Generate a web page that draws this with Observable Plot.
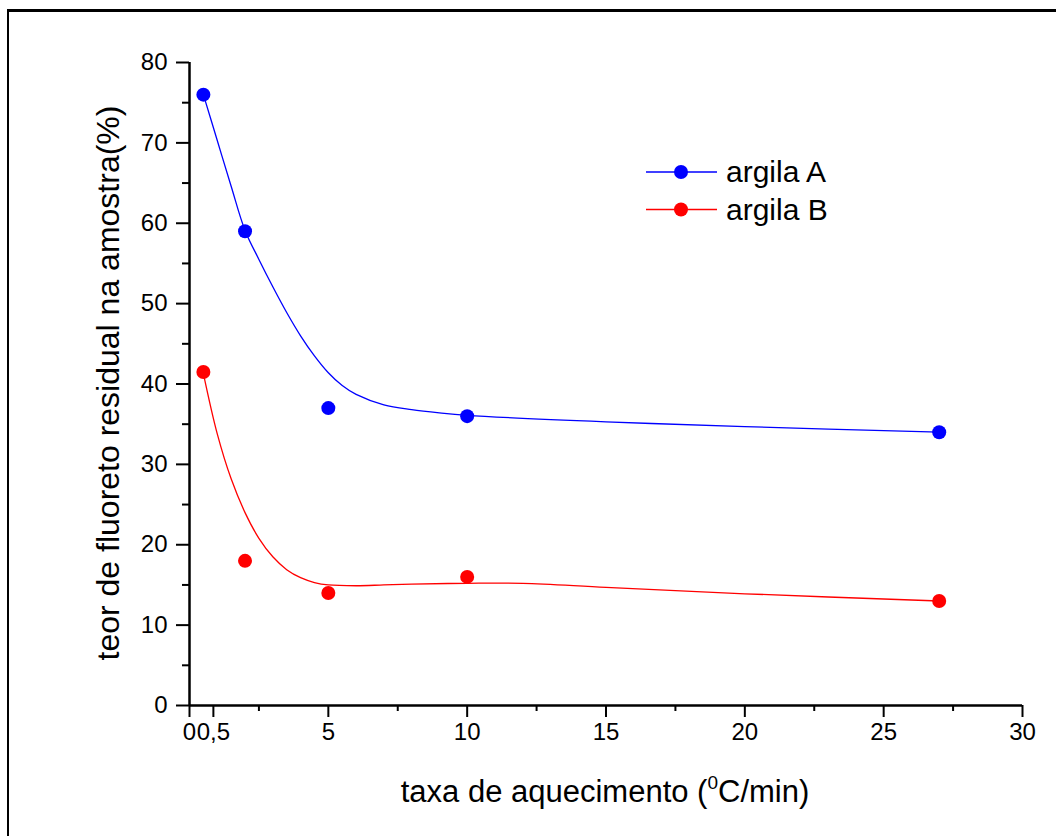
<!DOCTYPE html>
<html>
<head>
<meta charset="utf-8">
<script src="https://cdn.jsdelivr.net/npm/d3@7"></script>
<script src="https://cdn.jsdelivr.net/npm/@observablehq/plot@0.6"></script>
<style>
  body { margin: 0; background: #fff; }
  #wrap { position: relative; width: 1056px; height: 836px; overflow: hidden; background: #fff; font-family: "Liberation Sans", Arial, sans-serif; }
  #frame { position: absolute; left: 7px; top: 9px; width: 1200px; height: 1000px; border-left: 2.5px solid #000; border-top: 3px solid #000; box-sizing: border-box; }
  #plot { position: absolute; left: 0; top: 0; }
  #overlay { position: absolute; left: 0; top: 0; pointer-events: none; }
</style>
</head>
<body>
<div id="wrap">
  <div id="frame"></div>
  <div id="plot"></div>
  <svg id="overlay" width="1056" height="836"></svg>
</div>
<script>
// ---- data ----
const heatingRate = [0.5, 2, 5, 10, 27];
const argilaA = [76, 59, 37, 36, 34];
const argilaB = [41.5, 18, 14, 16, 13];

// fitted curves
const fitRateA = [0.5, 1, 1.5, 2, 2.5, 3, 3.5, 4, 4.5, 5, 5.5, 6, 7, 8, 9, 10, 15, 20, 27];
const fitA = [76, 70.3, 64.6, 59.1, 55.5, 52.1, 48.9, 46.0, 43.5, 41.4, 39.8, 38.7, 37.4, 36.8, 36.4, 36.1, 35.3, 34.7, 34.0];
const fitRateB = [0.5, 1, 1.5, 2, 2.5, 3, 3.5, 4, 4.5, 5, 6, 7, 8, 10, 12, 15, 20, 27];
const fitB = [41.3, 33.8, 28.2, 24.0, 20.8, 18.5, 16.9, 15.9, 15.3, 15.0, 14.9, 15.0, 15.1, 15.2, 15.2, 14.7, 13.9, 13.0];

const seriesNames = ["argila A", "argila B"];
const seriesColors = ["#0000ff", "#ff0000"];

const xMajorTicks = [0, 5, 10, 15, 20, 25, 30];
const xExtraTick = [0.5];
const xMinorTicks = [2.5, 7.5, 12.5, 17.5, 22.5, 27.5];
const yMajorTicks = [0, 10, 20, 30, 40, 50, 60, 70, 80];
const yMinorTicks = [5, 15, 25, 35, 45, 55, 65, 75];

const xTitle = "taxa de aquecimento (";
const xTitleSup = "0";
const xTitleEnd = "C/min)";
const yTitle = "teor de fluoreto residual na amostra(%)";

// ---- tables ----
const points = [];
heatingRate.forEach((x, i) => {
  points.push({x, y: argilaA[i], s: seriesNames[0]});
  points.push({x, y: argilaB[i], s: seriesNames[1]});
});
const fitLines = [
  ...fitRateA.map((x, i) => ({x, y: fitA[i], s: seriesNames[0]})),
  ...fitRateB.map((x, i) => ({x, y: fitB[i], s: seriesNames[1]}))
];

const color = {domain: seriesNames, range: seriesColors};
const FONT = "'Liberation Sans', Arial, sans-serif";

const chart = Plot.plot({
  width: 1056,
  height: 836,
  marginLeft: 189,
  marginRight: 34,
  marginTop: 62,
  marginBottom: 131,
  style: {fontFamily: FONT, fontSize: "24px", color: "#000", background: "transparent", overflow: "visible"},
  x: {domain: [0, 30]},
  y: {domain: [0, 80]},
  color,
  marks: [
    // minor ticks
    Plot.axisX(xMinorTicks, {tickSize: 6, strokeWidth: 2, text: null, label: null}),
    Plot.axisY(yMinorTicks, {tickSize: 7, strokeWidth: 2, text: null, label: null}),
    // major ticks
    Plot.axisX(xMajorTicks, {tickSize: 12, strokeWidth: 2, tickPadding: 5, label: null, fill: "#000", fontSize: 24, tickFormat: d => String(d)}),
    Plot.axisX(xExtraTick, {tickSize: 12, strokeWidth: 2, tickPadding: 5, label: null, fill: "#000", fontSize: 24, dx: 10, tickFormat: d => String(d).replace(".", ",")}),
    Plot.axisY(yMajorTicks, {tickSize: 13, strokeWidth: 2, tickPadding: 9, label: null, fill: "#000", fontSize: 24, tickFormat: d => String(d)}),
    // axis lines
    Plot.ruleX([0], {y1: 0, y2: 80, strokeWidth: 2.5, stroke: "#000"}),
    Plot.ruleY([0], {x1: 0, x2: 30, strokeWidth: 2.5, stroke: "#000"}),
    // fitted curves
    Plot.line(fitLines, {x: "x", y: "y", z: "s", stroke: "s", strokeWidth: 1.3, curve: "catmull-rom"}),
    // data points
    Plot.dot(points, {x: "x", y: "y", fill: "s", r: 7})
  ]
});
document.getElementById("plot").appendChild(chart);

// ---- titles and legend (overlay) ----
const ov = d3.select("#overlay");
const xt = ov.append("text")
  .attr("x", 605).attr("y", 802)
  .attr("text-anchor", "middle")
  .attr("font-family", FONT)
  .attr("font-size", 31)
  .attr("fill", "#000");
xt.append("tspan").text(xTitle);
xt.append("tspan").attr("font-size", 19).attr("dy", -13).text(xTitleSup);
xt.append("tspan").attr("dy", 13).text(xTitleEnd);

ov.append("text")
  .attr("transform", "translate(119,383) rotate(-90)")
  .attr("text-anchor", "middle")
  .attr("font-family", FONT)
  .attr("font-size", 32)
  .attr("fill", "#000")
  .text(yTitle);

const legendTop = 172, legendGap = 37.5;
seriesNames.forEach((name, i) => {
  const y = legendTop + i * legendGap;
  const g = ov.append("g");
  g.append("line").attr("x1", 646).attr("x2", 717).attr("y1", y).attr("y2", y)
    .attr("stroke", seriesColors[i]).attr("stroke-width", 1.3);
  g.append("circle").attr("cx", 681).attr("cy", y).attr("r", 7).attr("fill", seriesColors[i]);
  g.append("text").attr("x", 726).attr("y", y + 10)
    .attr("font-family", FONT)
    .attr("font-size", 30).attr("fill", "#000").text(name);
});
</script>
</body>
</html>
